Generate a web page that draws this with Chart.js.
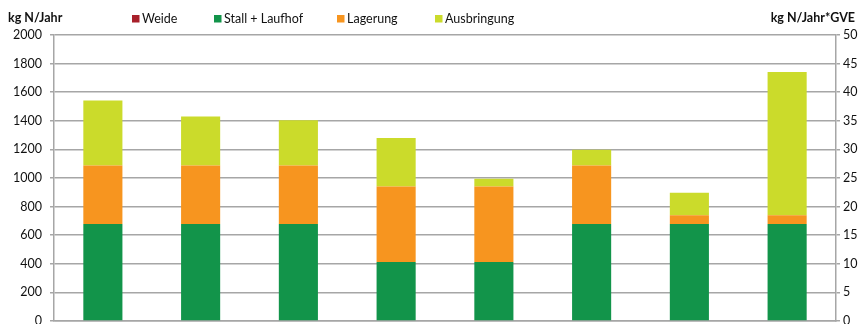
<!DOCTYPE html>
<html>
<head>
<meta charset="utf-8">
<script src="https://cdn.jsdelivr.net/npm/chart.js@4/dist/chart.umd.min.js"></script>
<style>
  html, body { margin: 0; padding: 0; background: #fff; }
  #wrap { width: 859px; height: 324px; position: relative; }
  canvas { display: block; }
</style>
</head>
<body>
<div id="wrap"><canvas id="c" width="859" height="324"></canvas></div>
<script>
// ---- data ----
const categories = ['1', '2', '3', '4', '5', '6', '7', '8'];
const seriesNames = ['Weide', 'Stall + Laufhof', 'Lagerung', 'Ausbringung'];
const weide = [0, 0, 0, 0, 0, 0, 0, 0];
const stallLaufhof = [678, 678, 678, 413, 413, 678, 678, 678];
const lagerung = [410, 410, 410, 528, 528, 410, 62, 62];
const ausbringung = [454, 342, 316, 338, 54, 109, 157, 1002];
const leftAxisTitle = 'kg N/Jahr';
const rightAxisTitle = 'kg N/Jahr*GVE';
const leftTicks = [0, 200, 400, 600, 800, 1000, 1200, 1400, 1600, 1800, 2000];
const rightTicks = [0, 5, 10, 15, 20, 25, 30, 35, 40, 45, 50];

// ---- styles ----
const colors = ['#a8202a', '#12944a', '#f7951f', '#cbdb2b'];
const gridColor = '#a6a6a6';
const FONT = 'Lato, "Open Sans", sans-serif';
const textColor = '#111';

const seriesValues = [weide, stallLaufhof, lagerung, ausbringung];

const legendX = [132, 214, 337, 435];

const annotatePlugin = {
  id: 'annotate',
  afterDraw(chart) {
    const ctx = chart.ctx;
    ctx.save();
    // axis titles
    ctx.fillStyle = textColor;
    ctx.font = 'bold 12.5px ' + FONT;
    ctx.textBaseline = 'middle';
    ctx.textAlign = 'left';
    ctx.fillText(leftAxisTitle, 8, 18);
    ctx.textAlign = 'right';
    ctx.fillText(rightAxisTitle, 855, 18);
    // legend
    ctx.font = '12.5px ' + FONT;
    ctx.textAlign = 'left';
    chart.data.datasets.forEach((ds, i) => {
      const x = legendX[i];
      ctx.fillStyle = ds.backgroundColor;
      ctx.fillRect(x, 15, 7.5, 7.5);
      ctx.fillStyle = textColor;
      ctx.fillText(ds.label, x + 10, 19);
    });
    ctx.restore();
  }
};

new Chart(document.getElementById('c'), {
  type: 'bar',
  data: {
    labels: categories,
    datasets: seriesNames.map((name, i) => ({
      label: name,
      data: seriesValues[i],
      backgroundColor: colors[i],
      borderWidth: 0,
      yAxisID: 'y',
      stack: 's'
    }))
  },
  options: {
    responsive: false,
    animation: false,
    devicePixelRatio: 1,
    categoryPercentage: 1.0,
    barPercentage: 0.4,
    layout: { padding: { top: 35, bottom: 3, left: 0, right: 0 } },
    plugins: {
      legend: { display: false },
      tooltip: { enabled: false },
      title: { display: false }
    },
    scales: {
      x: {
        stacked: true,
        grid: { display: false, drawTicks: false },
        ticks: { display: false },
        border: { display: true, color: gridColor, width: 1.5 },
        afterFit(s) { s.height = 0; s.paddingLeft = 0; s.paddingRight = 0; }
      },
      y: {
        position: 'left',
        stacked: true,
        min: leftTicks[0],
        max: leftTicks[leftTicks.length - 1],
        afterBuildTicks(s) { s.ticks = leftTicks.map(v => ({ value: v })); },
        ticks: {
          color: textColor,
          font: { family: FONT, size: 12.5 },
          padding: 8,
          callback: v => String(v)
        },
        grid: { color: gridColor, lineWidth: 1.5, tickLength: 4, drawTicks: true },
        border: { display: true, color: gridColor, width: 1.5 },
        afterFit(s) { s.width = 54; s.paddingTop = 0; s.paddingBottom = 0; }
      },
      y2: {
        position: 'right',
        min: rightTicks[0],
        max: rightTicks[rightTicks.length - 1],
        afterBuildTicks(s) { s.ticks = rightTicks.map(v => ({ value: v })); },
        ticks: {
          color: textColor,
          font: { family: FONT, size: 12.5 },
          padding: 3,
          callback: v => String(v)
        },
        grid: { display: true, drawOnChartArea: false, color: gridColor, lineWidth: 1.5, tickLength: 4, drawTicks: true },
        border: { display: true, color: gridColor, width: 1.5 },
        afterFit(s) { s.width = 23; s.paddingTop = 0; s.paddingBottom = 0; }
      }
    }
  },
  plugins: [annotatePlugin]
});
</script>
</body>
</html>
